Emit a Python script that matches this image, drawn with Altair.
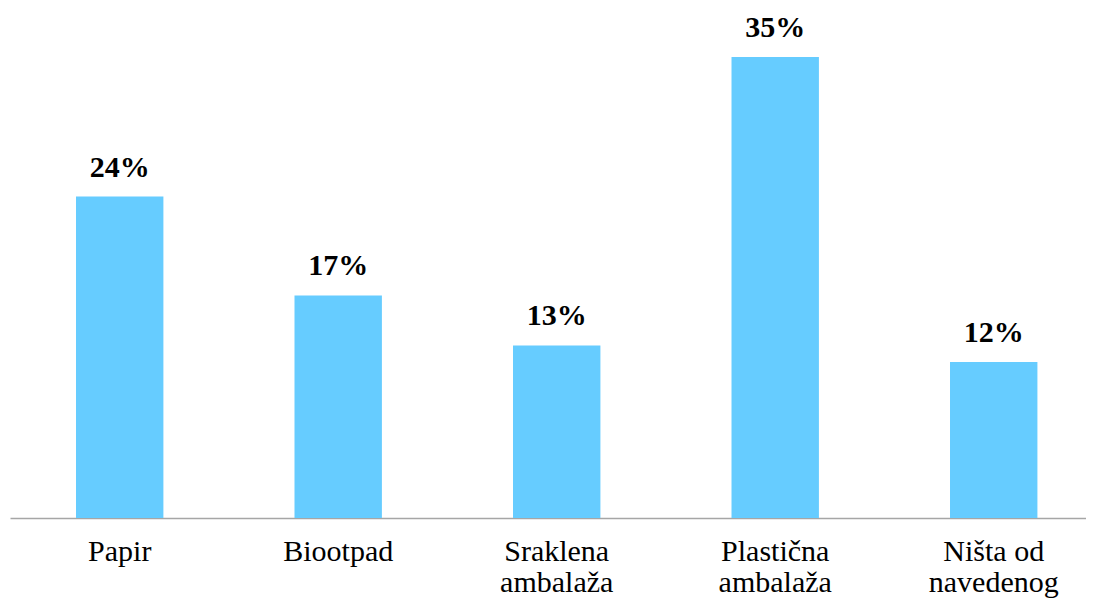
import altair as alt
import pandas as pd

categories = ["Papir", "Biootpad", "Sraklena\nambalaža", "Plastična\nambalaža", "Ništa od\nnavedenog"]
values = [24.4, 16.9, 13.1, 35.0, 11.85]
labels = ["24%", "17%", "13%", "35%", "12%"]

df = pd.DataFrame({"cat": categories, "val": values, "lab": labels})

FONT = "Liberation Serif"

x = alt.X(
    "cat:N",
    sort=categories,
    title=None,
    scale=alt.Scale(paddingInner=0.6, paddingOuter=0.2622, align=0.576),
    axis=alt.Axis(
        labelAngle=0,
        labelExpr="split(datum.label, '\\n')",
        labelFont=FONT,
        labelFontSize=30,
        labelColor="#000000",
        labelLineHeight=31,
        labelPadding=18,
        ticks=False,
        tickSize=0,
        domainColor="#a6a6a6",
        domainWidth=1.3,
        grid=False,
    ),
)
y = alt.Y("val:Q", title=None, scale=alt.Scale(domain=[0, 38.72], nice=False), axis=None)

bars = alt.Chart(df).mark_bar(color="#66CCFF").encode(x=x, y=y)
text = alt.Chart(df).mark_text(
    dy=-20, baseline="alphabetic", font=FONT, fontSize=30, fontWeight="bold", color="#000000"
).encode(x=x, y=y, text="lab:N")

chart = (
    alt.layer(bars, text)
    .properties(
        width=1076,
        height=510,
        padding={"left": 2, "top": 0, "right": 0, "bottom": 82},
        autosize=alt.AutoSizeParams(type="none"),
        view=alt.ViewBackground(stroke=None, strokeWidth=0, fill="#ffffff"),
    )
    .configure_view(stroke=None, strokeWidth=0)
    .configure(background="#ffffff")
)

chart.save("out.html", embed_options={"renderer": "svg", "actions": False})
